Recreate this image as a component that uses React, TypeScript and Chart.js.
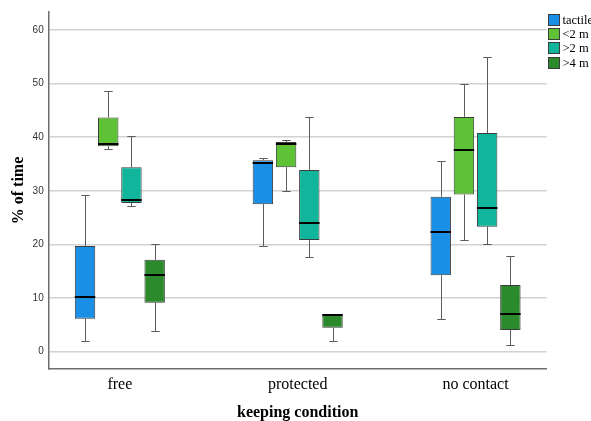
import React, { useEffect, useRef } from 'react';
import { Chart, registerables } from 'chart.js';

Chart.register(...registerables);

const categories = ['free', 'protected', 'no contact'];
const seriesNames = ['tactile', '<2 m', '>2 m', '>4 m'];
const seriesColors = ['#1a8fe6', '#5ec236', '#10b59c', '#2b8a2b'];
const yTickValues = [0, 10, 20, 30, 40, 50, 60];

// box plot statistics per category (free, protected, no contact)
const tactileMin = [2.0, 19.7, 6.1];
const tactileQ1 = [6.1, 27.5, 14.2];
const tactileMedian = [10.1, 35.2, 22.3];
const tactileQ3 = [19.7, 35.7, 28.9];
const tactileMax = [29.3, 36.1, 35.5];

const lt2Min = [37.8, 29.9, 20.8];
const lt2Q1 = [38.3, 34.4, 29.3];
const lt2Median = [38.7, 38.8, 37.6];
const lt2Q3 = [43.7, 39.1, 43.8];
const lt2Max = [48.7, 39.5, 50.0];

const gt2Min = [27.1, 17.6, 20.0];
const gt2Q1 = [27.7, 20.8, 23.3];
const gt2Median = [28.3, 24.0, 26.7];
const gt2Q3 = [34.4, 33.9, 40.8];
const gt2Max = [40.3, 43.7, 55.0];

const gt4Min = [3.85, 2.0, 1.1];
const gt4Q1 = [9.1, 4.4, 4.0];
const gt4Median = [14.3, 6.8, 7.0];
const gt4Q3 = [17.1, 6.8, 12.4];
const gt4Max = [20.0, 6.8, 17.9];

const seriesStats = [
  { min: tactileMin, q1: tactileQ1, med: tactileMedian, q3: tactileQ3, max: tactileMax },
  { min: lt2Min, q1: lt2Q1, med: lt2Median, q3: lt2Q3, max: lt2Max },
  { min: gt2Min, q1: gt2Q1, med: gt2Median, q3: gt2Q3, max: gt2Max },
  { min: gt4Min, q1: gt4Q1, med: gt4Median, q3: gt4Q3, max: gt4Max },
];

const boxPlugin = {
  id: 'boxWhiskers',
  beforeDatasetsDraw(chart: any) {
    const ctx = chart.ctx;
    const y = chart.scales.y;
    ctx.save();
    ctx.strokeStyle = '#5c5c5c';
    ctx.lineWidth = 1;
    seriesStats.forEach((st, s) => {
      const meta = chart.getDatasetMeta(s);
      meta.data.forEach((bar: any, i: number) => {
        const x = Math.round(bar.x) + 0.5;
        const cap = 4.2;
        const segs = [
          [st.q3[i], st.max[i]],
          [st.q1[i], st.min[i]],
        ];
        segs.forEach(([from, to]) => {
          if (Math.abs(from - to) < 0.01) return;
          const y1 = y.getPixelForValue(from);
          const y2 = Math.round(y.getPixelForValue(to)) + 0.5;
          ctx.beginPath();
          ctx.moveTo(x, y1);
          ctx.lineTo(x, y2);
          ctx.moveTo(x - cap, y2);
          ctx.lineTo(x + cap, y2);
          ctx.stroke();
        });
      });
    });
    ctx.restore();
  },
  afterDatasetsDraw(chart: any) {
    const ctx = chart.ctx;
    const y = chart.scales.y;
    ctx.save();
    ctx.strokeStyle = '#000000';
    ctx.lineWidth = 2;
    seriesStats.forEach((st, s) => {
      const meta = chart.getDatasetMeta(s);
      meta.data.forEach((bar: any, i: number) => {
        const ym = Math.round(y.getPixelForValue(st.med[i]));
        ctx.beginPath();
        ctx.moveTo(bar.x - bar.width / 2, ym);
        ctx.lineTo(bar.x + bar.width / 2, ym);
        ctx.stroke();
      });
    });
    ctx.restore();
  },
  afterDraw(chart: any) {
    const ctx = chart.ctx;
    ctx.save();
    const bx = 548.5;
    const by = 13.5;
    const step = 14.4;
    ctx.font = '12.5px "Liberation Serif"';
    ctx.textBaseline = 'middle';
    ctx.textAlign = 'left';
    seriesNames.forEach((name, k) => {
      const top = Math.round(by + k * step) + 0.5;
      ctx.fillStyle = seriesColors[k];
      ctx.fillRect(bx, top, 11, 11);
      ctx.strokeStyle = '#3c3c3c';
      ctx.lineWidth = 1;
      ctx.strokeRect(bx, top, 11, 11);
      ctx.fillStyle = '#000000';
      ctx.fillText(name, 562.5, top + 6);
    });
    ctx.restore();
  },
};

export default function App() {
  const canvasRef = useRef<HTMLCanvasElement | null>(null);

  useEffect(() => {
    if (!canvasRef.current) return;
    const datasets = seriesStats.map((st, s) => ({
      label: seriesNames[s],
      data: categories.map((_, i) => ({ x: i, y: [st.q1[i], st.q3[i]] })),
      backgroundColor: seriesColors[s],
      borderColor: '#3c3c3c',
      borderWidth: 1,
      borderSkipped: false,
      categoryPercentage: 0.522,
      barPercentage: 0.88,
    }));

    const chart = new Chart(canvasRef.current, {
      type: 'bar',
      data: { datasets } as any,
      options: {
        responsive: false,
        animation: false,
        events: [],
        layout: { padding: { top: 12, right: 53.3, left: 0, bottom: 0 } },
        plugins: {
          legend: { display: false },
          tooltip: { enabled: false },
        },
        scales: {
          x: {
            type: 'linear',
            offset: false,
            min: -0.4,
            max: 2.4,
            afterBuildTicks: (scale: any) => {
              scale.ticks = categories.map((_, i) => ({ value: i }));
            },
            afterFit: (scale: any) => {
              scale.height = 52;
            },
            grid: { display: false, drawTicks: false, offset: false },
            border: { display: true, color: '#6e6e6e', width: 1.5 },
            ticks: {
              autoSkip: false,
              maxRotation: 0,
              padding: 6,
              color: '#000000',
              font: { family: '"Liberation Serif"', size: 16 },
              callback: (v: any) => categories[v as number] ?? '',
            },
            title: {
              display: true,
              text: 'keeping condition',
              color: '#000000',
              font: { family: '"Liberation Serif"', size: 16, weight: 'bold', lineHeight: 1 },
              padding: { top: 0, bottom: 0 },
            },
          },
          y: {
            type: 'linear',
            min: -3.3,
            max: 63.4,
            afterBuildTicks: (scale: any) => {
              scale.ticks = yTickValues.map((v) => ({ value: v }));
            },
            afterFit: (scale: any) => {
              scale.width = 48.7;
            },
            grid: { color: '#d2d2d2', lineWidth: 1.5, drawTicks: false },
            border: { display: true, color: '#6e6e6e', width: 1.5 },
            ticks: {
              padding: 5,
              color: '#333333',
              font: { family: '"Liberation Sans"', size: 10 },
            },
            title: {
              display: true,
              text: '% of time',
              color: '#000000',
              font: { family: '"Liberation Serif"', size: 16, weight: 'bold', lineHeight: 1 },
              padding: { top: 11, bottom: 0 },
            },
          },
        },
      } as any,
      plugins: [boxPlugin],
    });
    return () => chart.destroy();
  }, []);

  return (
    <div
      style={{
        position: 'fixed',
        left: 0,
        top: 0,
        width: 591,
        height: 421,
        overflow: 'hidden',
        background: '#ffffff',
      }}
    >
      <canvas ref={canvasRef} width={600} height={421} style={{ display: 'block' }} />
    </div>
  );
}
